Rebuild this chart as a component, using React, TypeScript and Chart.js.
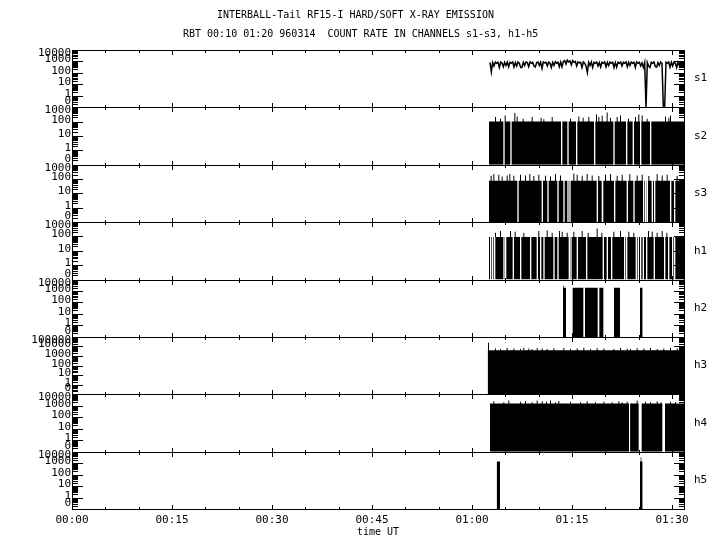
import React, { useEffect, useRef } from 'react';
import { Chart, registerables } from 'chart.js';

Chart.register(...registerables);

// ---------- text ----------
const TITLE_1 = 'INTERBALL-Tail RF15-I HARD/SOFT X-RAY EMISSION';
const TITLE_2 = 'RBT 00:10 01:20 960314  COUNT RATE IN CHANNELS s1-s3, h1-h5';
const X_TITLE = 'time UT';

// ---------- axes ----------
const X_MIN = 0; // minutes after 00:00 UT
const X_MAX = 91.8;
const X_MINOR_STEP = 5;
const X_MAJOR_STEP = 15;
const FLOOR = 0.1; // value plotted at the "0" label
const GAP_WIDTH = 0.2; // minutes of a zero sample
const SPIKE_WIDTH = 0.15; // minutes of a spike sample

const channels = ['s1', 's2', 's3', 'h1', 'h2', 'h3', 'h4', 'h5'];
const channelMax = [1e4, 1e3, 1e3, 1e3, 1e4, 1e5, 1e4, 1e4];

// ---------- s1 : line, regular samples ----------
const s1Start = 62.7;
const s1Step = 0.2;
const s1Counts = [
  850, 125, 800, 400, 900, 700, 850, 300, 900, 750,
  345, 850, 450, 900, 350, 850, 700, 900, 330, 800,
  400, 900, 700, 300, 300, 850, 450, 900, 800, 350,
  900, 700, 850, 400, 330, 800, 900, 450, 850, 250,
  900, 750, 850, 400, 900, 700, 300, 850, 450, 950,
  700, 850, 350, 900, 340, 1000, 1200, 600, 1300, 900,
  1100, 500, 1200, 850, 1000, 400, 900, 750, 850, 300,
  900, 700, 400, 110, 850, 450, 900, 300, 850, 700,
  900, 400, 800, 330, 850, 700, 900, 350, 850, 450,
  900, 700, 850, 300, 800, 320, 850, 700, 900, 400,
  850, 700, 900, 350, 850, 450, 900, 700, 850, 300,
  900, 700, 850, 400, 750, 300, 800, 0, 800, 400,
  300, 850, 700, 900, 350, 330, 800, 450, 900, 700,
  0, 0, 850, 700, 900, 320, 850, 400, 900, 700,
  300, 850, 450, 900, 700, 850,
];

// ---------- s2 ----------
const s2Start = 62.55;
const s2Base = 105;
const s2Gaps = [64.7, 65.75, 73.35, 74.3, 75.6, 78.3, 81.2, 83.1, 84.1, 85.2, 86.7];
const s2Spikes = [
  [63.45, 210], [64.2, 160], [64.9, 276], [66.35, 400], [66.7, 235], [67.6, 162],
  [68.95, 210], [70.3, 190], [70.7, 150], [71.95, 210], [74.7, 162], [75.95, 235],
  [76.6, 190], [77.45, 210], [78.6, 324], [78.95, 210], [79.45, 276], [80.2, 447],
  [80.7, 190], [81.7, 210], [82.2, 276], [83.4, 162], [84.45, 210], [84.95, 324],
  [85.45, 276], [86.2, 162], [88.95, 235], [89.45, 190], [89.7, 276],
];

// ---------- s3 ----------
const s3Start = 62.55;
const s3Base = 76;
const s3Gaps = [
  66.8, 70.45, 71.3, 72.8, 73.7, 74.3, 74.6, 78.7, [79.45, 79.7], 81.3, 83.2, 84.2,
  85.65, 85.95, 86.2, 86.95, 87.3, 89.7, 90.3,
];
const s3Spikes = [
  [62.8, 170], [63.2, 225], [63.95, 200], [64.45, 150], [65.2, 180], [65.6, 225],
  [66.2, 170], [67.2, 200], [67.95, 180], [68.6, 225], [69.2, 165], [69.95, 200],
  [70.95, 170], [71.7, 150], [72.45, 225], [73.2, 180], [75.2, 245], [75.7, 200],
  [76.45, 170], [77.2, 225], [77.95, 180], [78.95, 165], [79.95, 200], [80.7, 225],
  [81.7, 170], [82.45, 200], [83.6, 225], [84.7, 180], [85.45, 200], [86.45, 165],
  [87.7, 225], [88.45, 180], [89.2, 200], [90.7, 170],
];

// ---------- h1 ----------
const h1Start = 62.55;
const h1Base = 91;
const h1Gaps = [
  62.7, 63.0, 63.3, 64.7, 64.95, 66.1, 67.2, 68.7, 69.7, 70.2, 70.7, 72.2, 72.8,
  74.5, 74.75, 75.7, 77.1, 79.6, 80.2, 80.85, 82.8, 83.1, 84.55, 84.85, 85.2, 85.6,
  86.1, 87.25, 88.8, 89.4, 90.0, 90.3,
];
const h1Spikes = [
  [63.45, 180], [64.2, 237], [65.7, 237], [66.4, 212], [67.7, 180], [69.95, 237],
  [71.2, 265], [71.95, 180], [73.05, 237], [73.45, 212], [74.2, 180], [75.2, 212],
  [76.45, 237], [77.35, 180], [78.7, 365], [79.4, 180], [81.2, 212], [82.2, 237],
  [83.45, 212], [84.2, 180], [86.4, 237], [86.95, 212], [87.7, 180], [88.45, 237],
  [89.15, 180],
];

// ---------- h2 : blocks [from, to, count] ----------
const h2Blocks = [
  [73.65, 73.75, 3000], [73.75, 74.1, 1870],
  [75.1, 76.7, 1870], [76.95, 78.85, 1870], [79.1, 79.7, 1870],
  [81.3, 82.2, 1870], [85.2, 85.6, 1870],
];

// ---------- h3 ----------
const h3Start = 62.35;
const h3Base = 4000;
const h3Gaps: (number | number[])[] = [];
const h3Spikes = [
  [62.4, 25000], [63.45, 6000], [64.2, 5500], [65.2, 7000], [66.2, 6000], [67.2, 5500],
  [67.7, 7500], [68.45, 6000], [68.95, 5500], [69.7, 7000], [70.45, 6000], [71.2, 5500],
  [72.2, 6500], [73.7, 7000], [74.7, 5500], [75.7, 6000], [76.7, 7500], [77.7, 5500],
  [78.7, 6500], [79.7, 6000], [81.2, 5500], [82.2, 7000], [83.2, 6000], [83.7, 5500],
  [84.7, 6500], [85.7, 6000], [86.7, 7000], [87.7, 5500], [88.7, 6000], [89.7, 7500],
  [90.7, 6000],
];

// ---------- h4 ----------
const h4Start = 62.7;
const h4Base = 1600;
const h4Gaps = [[83.55, 83.72], [85.0, 85.45], [88.55, 88.95]];
const h4Spikes = [
  [63.2, 2400], [64.7, 2000], [65.45, 2800], [67.2, 2200], [67.95, 2600], [68.95, 2000],
  [69.7, 2800], [70.45, 2400], [71.1, 2200], [71.7, 2800], [72.45, 2000], [72.95, 2600],
  [74.7, 2200], [76.2, 2000], [77.2, 2400], [78.45, 2000], [79.7, 2200], [80.95, 2000],
  [81.95, 2400], [82.45, 2000], [83.2, 2200], [84.7, 2860], [85.95, 2200], [86.7, 2000],
  [87.7, 2400], [88.3, 2000], [89.7, 2200], [90.45, 2000],
];

// ---------- h5 : blocks ----------
const h5Blocks = [
  [63.7, 64.2, 1380],
  [85.2, 85.3, 1380], [85.3, 85.4, 3200], [85.4, 85.6, 1380],
];

// ---------- builders ----------
type Pt = { x: number; y: number };
const clampV = (v: number, max: number) => Math.min(Math.max(v, FLOOR), max);

function fromGrid(t0: number, dt: number, counts: number[], max: number): Pt[] {
  return counts.map((c, i) => ({ x: t0 + i * dt, y: clampV(c, max) }));
}

function fromEvents(start: number, end: number, base: number, gaps: any[], spikes: number[][], max: number): Pt[] {
  const ev: number[][] = [];
  gaps.forEach((g) => (Array.isArray(g) ? ev.push([g[0], g[1], 0]) : ev.push([g, g + GAP_WIDTH, 0])));
  spikes.forEach(([t, v]) => ev.push([t, t + SPIKE_WIDTH, v]));
  ev.sort((a, b) => a[0] - b[0]);
  const pts: Pt[] = [{ x: start, y: base }];
  ev.forEach(([a, b, v]) => {
    pts.push({ x: a, y: v }, { x: b, y: base });
  });
  pts.push({ x: end, y: base });
  return pts.map((p) => ({ x: p.x, y: clampV(p.y, max) }));
}

function fromBlocks(blocks: number[][], max: number): Pt[] {
  const pts: Pt[] = [];
  blocks.forEach(([a, b, v], i) => {
    pts.push({ x: a, y: v });
    const next = blocks[i + 1];
    if (!next || next[0] > b) pts.push({ x: b, y: 0 });
  });
  return pts.map((p) => ({ x: p.x, y: clampV(p.y, max) }));
}

const fmtTime = (m: number) => {
  const h = Math.floor(m / 60);
  const mm = Math.round(m % 60);
  return String(h).padStart(2, '0') + ':' + String(mm).padStart(2, '0');
};

const MONO = '"DejaVu Sans Mono", "Liberation Mono", monospace';

const framePlugin = {
  id: 'frame',
  afterDatasetsDraw(chart: any) {
    const ctx: CanvasRenderingContext2D = chart.ctx;
    const xs = chart.scales.x;
    const L = Math.round(chart.chartArea.left);
    const R = Math.round(chart.chartArea.right);
    ctx.save();
    ctx.fillStyle = '#000';
    const hline = (x0: number, x1: number, y: number) => ctx.fillRect(x0, y, x1 - x0 + 1, 1);
    const vline = (x: number, y0: number, y1: number) =>
      ctx.fillRect(x, Math.min(y0, y1), 1, Math.abs(y1 - y0) + 1);

    let lastBottom = 0;
    channels.forEach((id, i) => {
      const sc = chart.scales['y_' + id];
      const T = Math.round(sc.top);
      const B = Math.round(sc.bottom);
      lastBottom = Math.max(lastBottom, B);
      hline(L, R, T);
      hline(L, R, B);
      vline(L, T, B);
      vline(R, T, B);

      const maxExp = Math.round(Math.log10(channelMax[i]));
      ctx.font = '11px ' + MONO;
      ctx.textAlign = 'right';
      ctx.textBaseline = 'middle';
      for (let e = -1; e <= maxExp; e++) {
        const v = Math.pow(10, e);
        const y = Math.round(sc.getPixelForValue(v));
        hline(L, L + 10, y);
        hline(R - 10, R, y);
        const label = e < 0 ? '0' : String(v);
        const ly = Math.min(Math.max(y - 1.5, T + 3), B - 5.5);
        ctx.fillText(label, 71, ly);
        if (e < maxExp) {
          for (let k = 2; k <= 9; k++) {
            const ym = Math.round(sc.getPixelForValue(k * v));
            hline(L, L + 5, ym);
            hline(R - 5, R, ym);
          }
        }
      }

      for (let m = X_MIN; m <= X_MAX; m += X_MINOR_STEP) {
        const x = Math.round(xs.getPixelForValue(m));
        const len = m % X_MAJOR_STEP === 0 ? 4 : 2;
        vline(x, T, T + len);
        vline(x, B - len, B);
      }

      ctx.font = '11px ' + MONO;
      ctx.textAlign = 'left';
      ctx.fillText(id, 694, (T + B) / 2);
    });

    ctx.font = '11px ' + MONO;
    ctx.textAlign = 'center';
    ctx.textBaseline = 'middle';
    for (let m = X_MIN; m <= X_MAX; m += X_MAJOR_STEP) {
      ctx.fillText(fmtTime(m), xs.getPixelForValue(m), lastBottom + 11);
    }
    ctx.font = '10px ' + MONO;
    ctx.fillText(X_TITLE, (L + R) / 2, lastBottom + 23);

    ctx.textAlign = 'left';
    ctx.font = '10px ' + MONO;
    ctx.fillText(TITLE_1, 217, 15);
    ctx.fillText(TITLE_2, 183, 34);
    ctx.restore();
  },
};

export default function App() {
  const ref = useRef<HTMLCanvasElement | null>(null);

  useEffect(() => {
    if (!ref.current) return;
    const maxOf = (id: string) => channelMax[channels.indexOf(id)];

    const filled = (id: string, data: Pt[]) => ({
      label: id,
      yAxisID: 'y_' + id,
      data,
      stepped: true,
      borderWidth: 0,
      borderColor: 'rgba(0,0,0,0)',
      backgroundColor: '#000',
      fill: 'start',
      pointRadius: 0,
    });

    const datasets: any[] = [
      {
        label: 's1',
        yAxisID: 'y_s1',
        data: fromGrid(s1Start, s1Step, s1Counts, maxOf('s1')),
        borderColor: '#000',
        borderWidth: 1.5,
        pointRadius: 0,
        fill: false,
      },
      filled('s2', fromEvents(s2Start, X_MAX, s2Base, s2Gaps, s2Spikes, maxOf('s2'))),
      filled('s3', fromEvents(s3Start, X_MAX, s3Base, s3Gaps, s3Spikes, maxOf('s3'))),
      filled('h1', fromEvents(h1Start, X_MAX, h1Base, h1Gaps, h1Spikes, maxOf('h1'))),
      filled('h2', fromBlocks(h2Blocks, maxOf('h2'))),
      filled('h3', fromEvents(h3Start, X_MAX, h3Base, h3Gaps, h3Spikes, maxOf('h3'))),
      filled('h4', fromEvents(h4Start, X_MAX, h4Base, h4Gaps, h4Spikes, maxOf('h4'))),
      filled('h5', fromBlocks(h5Blocks, maxOf('h5'))),
    ];

    const scales: any = {
      x: { type: 'linear', min: X_MIN, max: X_MAX, display: false },
    };
    // defined bottom-to-top so that s1 is stacked at the top
    [...channels].reverse().forEach((id) => {
      scales['y_' + id] = {
        type: 'logarithmic',
        axis: 'y',
        position: 'left',
        stack: 'panels',
        stackWeight: 1,
        min: FLOOR,
        max: maxOf(id),
        display: false,
      };
    });

    const chart = new Chart(ref.current, {
      type: 'line',
      data: { datasets },
      options: {
        responsive: false,
        animation: false,
        devicePixelRatio: 1,
        events: [],
        layout: { padding: { left: 72, right: 36, top: 50, bottom: 41 } },
        scales,
        plugins: { legend: { display: false }, tooltip: { enabled: false }, title: { display: false } },
      } as any,
      plugins: [framePlugin],
    });
    return () => chart.destroy();
  }, []);

  return (
    <div style={{ position: 'absolute', left: 0, top: 0, width: 720, height: 550, background: '#fff' }}>
      <canvas ref={ref} width={720} height={550} style={{ display: 'block' }} />
    </div>
  );
}
